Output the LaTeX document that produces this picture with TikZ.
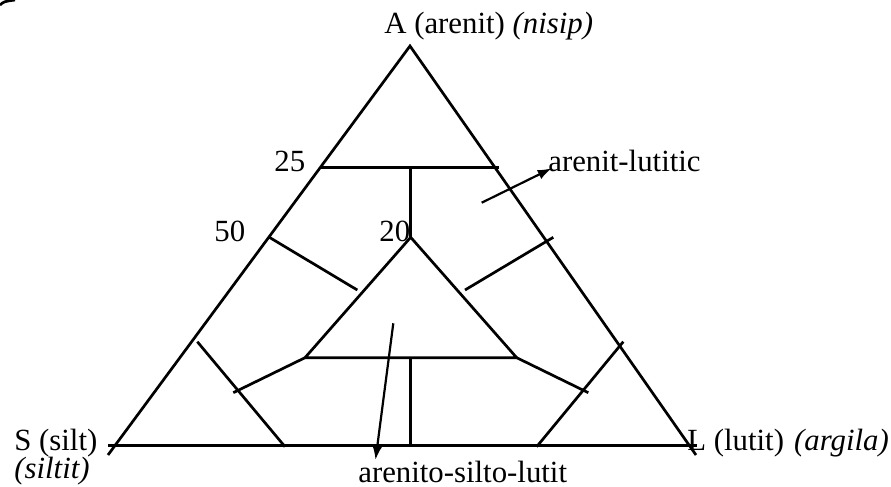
\documentclass[tikz,border=0pt]{standalone}
\usepackage{fontspec}
\setmainfont{Liberation Serif}
\usetikzlibrary{arrows.meta}
\begin{document}
\begin{tikzpicture}[x=0.5pt,y=-0.5pt,line width=1.35pt,
  lbl/.style={inner sep=0pt,anchor=base west,font=\fontsize{15.4}{17}\selectfont},
  arr/.style={line width=1.1pt,-{Latex[length=7pt,width=5pt]}}]
\useasboundingbox (0,0) rectangle (891,487);
% corner fragment
\draw (0,5) .. controls (4,1.5) .. (15,0);
% outer triangle
\coordinate (apex) at (410,46);
\coordinate (lext) at (108,455);
\coordinate (rext) at (696,455);
\coordinate (bl) at (108,445.7);
\coordinate (br) at (697,445.7);
\draw (lext) -- (apex) -- (rext);
\draw (bl) -- (br);
% 25 % line
\coordinate (t25l) at (320.5,167.3);
\coordinate (t25r) at (499,167.3);
\draw (t25l) -- (t25r);
% inner triangle
\coordinate (ia) at (410.7,237.3);
\coordinate (ibl) at (305,357.7);
\coordinate (ibr) at (516.7,357.7);
\draw (ibl) -- (ia) -- (ibr) -- cycle;
\draw (410.7,167.3) -- (ia);
\draw (410.7,357.7) -- (410.7,445.7);
% side ticks
\coordinate (m50l) at (269.3,237.3);
\draw (m50l) -- (357.3,290);
\draw (465,290) -- (553.3,237.3);
\draw (ibl) -- (233.3,392.7);
\draw (ibr) -- (588.3,392.7);
% corner dividers
\draw (197.3,341.7) -- (285,446.7);
\draw (536.7,446.7) -- (623.3,341.7);
% arrows
\coordinate (a1s) at (481.7,202.7);
\coordinate (a1e) at (551.7,168.3);
\draw[arr] (a1s) -- (a1e);
\coordinate (a2s) at (393.3,323.3);
\coordinate (a2e) at (375.5,460);
\draw[arr] (a2s) -- (a2e);
% labels
\node[lbl] (la) at (383,33.5) {A (arenit) \textit{(nisip)}};
\node[lbl] (l25) at (273,171.5) {25};
\node[lbl] (l50) at (213,241.7) {50};
\node[lbl] (l20) at (378,241.7) {20};
\node[lbl] (lal) at (547,171.5) {arenit-lutitic};
\node[lbl] (ls) at (13,450) {S (silt)};
\node[lbl] (ls2) at (13,478.5) {\textit{(siltit)}};
\node[lbl] (ll) at (686,450) {L (lutit) \hspace{0.08em}\textit{(argila)}};
\node[lbl] (lasl) at (357,482) {arenito-silto-lutit};
\end{tikzpicture}
\end{document}
